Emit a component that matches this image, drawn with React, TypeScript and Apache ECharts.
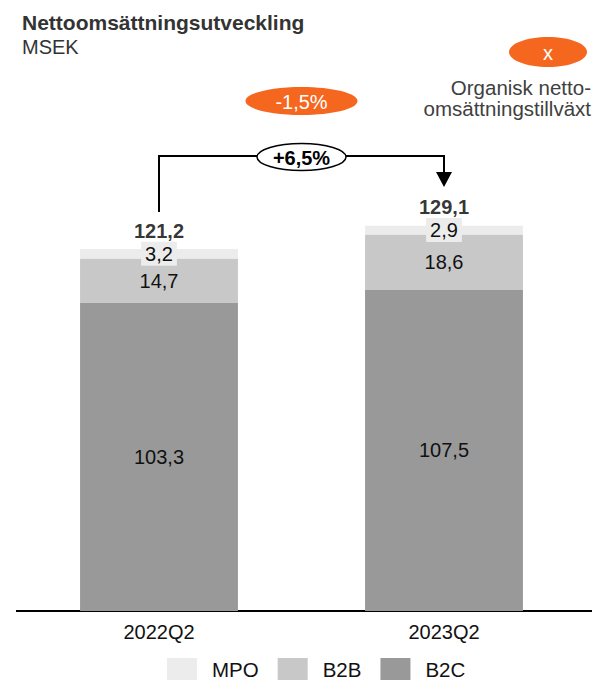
import React, { useEffect, useRef } from "react";
import * as echarts from "echarts";

const categories = ["2022Q2", "2023Q2"];
const b2cValues = [103.3, 107.5];
const b2bValues = [14.7, 18.6];
const mpoValues = [3.2, 2.9];
const totalValues = [121.2, 129.1];
const growthLabel = "+6,5%";
const organicLabel = "-1,5%";
const legendNames = ["MPO", "B2B", "B2C"];

const FONT = "'Liberation Sans', Arial, sans-serif";
const ORANGE = "#f5661f";
const fmt = (v: number) => v.toFixed(1).replace(".", ",");

export default function App() {
  const ref = useRef<HTMLDivElement>(null);
  useEffect(() => {
    if (!ref.current) return;
    const chart = echarts.init(ref.current, null, { renderer: "svg" });
    const segLabel = {
      show: true,
      position: "inside",
      fontSize: 20,
      fontFamily: FONT,
      color: "#111",
      formatter: (p: any) => fmt(p.value),
    };
    chart.setOption({
      animation: false,
      textStyle: { fontFamily: FONT },
      title: {
        text: "Nettoomsättningsutveckling",
        subtext: "MSEK",
        left: 17,
        top: 7,
        itemGap: 4,
        textStyle: { fontSize: 21, fontWeight: "bold", color: "#333", fontFamily: FONT },
        subtextStyle: { fontSize: 20, color: "#333", fontFamily: FONT },
      },
      legend: {
        data: legendNames,
        left: 167,
        top: 658,
        padding: 0,
        itemWidth: 30,
        itemHeight: 22,
        itemGap: 19,
        icon: "rect",
        textStyle: { fontSize: 20.5, color: "#111", fontFamily: FONT, padding: [0, 0, 0, 10] },
      },
      grid: { left: 16.5, right: 5.5, top: 163, bottom: 69 },
      xAxis: {
        type: "category",
        data: categories,
        axisLine: { show: false },
        axisTick: { show: false },
        axisLabel: { fontSize: 20, color: "#111", margin: 11, fontFamily: FONT },
      },
      yAxis: { type: "value", min: 0, max: 150, show: false, splitLine: { show: false } },
      series: [
        {
          name: "B2C",
          type: "bar",
          stack: "total",
          barWidth: "55.4%",
          data: b2cValues,
          itemStyle: { color: "#999999" },
          label: segLabel,
        },
        {
          name: "B2B",
          type: "bar",
          stack: "total",
          barWidth: "55.4%",
          data: b2bValues,
          itemStyle: { color: "#c8c8c8" },
          label: segLabel,
        },
        {
          name: "MPO",
          type: "bar",
          stack: "total",
          barWidth: "55.4%",
          data: mpoValues,
          itemStyle: { color: "#ececec" },
          label: {
            ...segLabel,
            backgroundColor: "#ececec",
            padding: [2, 4, 1, 4],
            lineHeight: 21,
          },
        },
        {
          name: "Total",
          type: "scatter",
          symbolSize: 0,
          data: totalValues,
          silent: true,
          label: {
            show: true,
            position: "top",
            distance: 8,
            fontSize: 20,
            fontWeight: "bold",
            color: "#000",
            fontFamily: FONT,
            formatter: (p: any) => fmt(p.value),
          },
        },
      ],
    });

    const p0 = chart.convertToPixel({ xAxisIndex: 0, yAxisIndex: 0 }, [0, 0]) as number[];
    const p1 = chart.convertToPixel({ xAxisIndex: 0, yAxisIndex: 0 }, [1, 0]) as number[];
    const x0 = p0[0];
    const x1 = p1[0];
    const axisY = p0[1];
    const mid = (x0 + x1) / 2;
    const bracketY = 156;
    const lineStyle = { stroke: "#000", lineWidth: 2 };
    chart.setOption({
      graphic: [
        { type: "line", shape: { x1: 16, y1: axisY, x2: 592, y2: axisY }, style: { stroke: "#000", lineWidth: 2 } },
        { type: "polyline", shape: { points: [[x0, 212], [x0, bracketY], [x1, bracketY], [x1, 173]] }, style: { ...lineStyle, fill: null } },
        { type: "polygon", shape: { points: [[x1 - 8, 172], [x1 + 8, 172], [x1, 187]] }, style: { fill: "#000" } },
        { type: "ellipse", shape: { cx: mid, cy: 157, rx: 44.5, ry: 13.5 }, style: { fill: "#fff", stroke: "#000", lineWidth: 1.5 } },
        { type: "text", x: mid, y: 158, style: { text: growthLabel, fontSize: 20, fontWeight: "bold", fill: "#000", fontFamily: FONT, align: "center", verticalAlign: "middle" } },
        { type: "ellipse", shape: { cx: mid, cy: 101, rx: 56, ry: 14 }, style: { fill: ORANGE } },
        { type: "text", x: mid, y: 102, style: { text: organicLabel, fontSize: 20, fill: "#fff", fontFamily: FONT, align: "center", verticalAlign: "middle" } },
        { type: "ellipse", shape: { cx: 548, cy: 52, rx: 39, ry: 15 }, style: { fill: ORANGE } },
        { type: "text", x: 548, y: 53, style: { text: "x", fontSize: 20, fill: "#fff", fontFamily: FONT, align: "center", verticalAlign: "middle" } },
        { type: "text", x: 591, y: 87, style: { text: "Organisk netto-", fontSize: 20.5, fill: "#404040", fontFamily: FONT, align: "right", verticalAlign: "middle" } },
        { type: "text", x: 591, y: 108, style: { text: "omsättningstillväxt", fontSize: 20.5, fill: "#404040", fontFamily: FONT, align: "right", verticalAlign: "middle" } },
      ],
    });
    return () => chart.dispose();
  }, []);
  return (
    <div
      ref={ref}
      style={{ position: "absolute", left: 0, top: 0, width: 592, height: 680, background: "#fff" }}
    />
  );
}
